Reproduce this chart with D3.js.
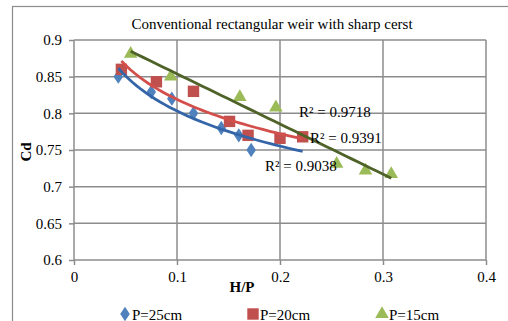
<!DOCTYPE html>
<html>
<head>
<meta charset="utf-8">
<title>Cd vs H/P</title>
<script src="https://cdn.jsdelivr.net/npm/d3@7"></script>
<style>
body { margin: 0; background: #fff; }
svg { font-family: "Liberation Serif", "Times New Roman", serif; }
.grid line { stroke: #8c8c8c; stroke-width: 1.5; }
.axis path, .axis line { stroke: #8c8c8c; stroke-width: 1.5; }
</style>
</head>
<body>
<script>
// values
var xTicks = [0, 0.1, 0.2, 0.3, 0.4];
var yTicks = [0.6, 0.65, 0.7, 0.75, 0.8, 0.85, 0.9];

var hp25 = [0.043, 0.075, 0.095, 0.116, 0.143, 0.160, 0.172];
var cd25 = [0.850, 0.829, 0.820, 0.800, 0.780, 0.770, 0.750];
var hp20 = [0.046, 0.080, 0.116, 0.151, 0.169, 0.200, 0.222];
var cd20 = [0.860, 0.843, 0.830, 0.789, 0.770, 0.766, 0.768];
var hp15 = [0.055, 0.094, 0.161, 0.196, 0.255, 0.283, 0.308];
var cd15 = [0.881, 0.850, 0.822, 0.808, 0.731, 0.722, 0.717];

var seriesNames = ["P=25cm", "P=20cm", "P=15cm"];
var trendTypes = ["log", "log", "linear"];
var trendRange = [[0.043, 0.222], [0.046, 0.222], [0.055, 0.308]];
var r2Values = ["0.9038", "0.9391", "0.9718"];

var W = 508, H = 321;
var margin = {top: 40, left: 74, right: 22, bottom: 61};
var w = W - margin.left - margin.right,
    h = H - margin.top - margin.bottom;
var serif = '"Liberation Serif", "Times New Roman", serif';

var x = d3.scaleLinear().domain([0, 0.4]).range([0, w]);
var y = d3.scaleLinear().domain([0.6, 0.9]).range([h, 0]);

var svg = d3.select("body").append("svg")
  .attr("width", W).attr("height", H);

// chart border
svg.append("rect").attr("x", 12.5).attr("y", 6.5)
  .attr("width", W).attr("height", H)
  .attr("fill", "none").attr("stroke", "#8c8c8c").attr("stroke-width", 1.2);

svg.append("text").attr("x", 272).attr("y", 29)
  .attr("text-anchor", "middle").style("font-size", "15px")
  .text("Conventional rectangular weir with sharp cerst");

var g = svg.append("g").attr("transform", "translate(" + margin.left + "," + margin.top + ")");

var grid = g.append("g").attr("class", "grid");
grid.selectAll(".gy").data(yTicks).enter().append("line")
  .attr("x1", 0).attr("x2", w)
  .attr("y1", function(d) { return y(d); }).attr("y2", function(d) { return y(d); });
grid.selectAll(".gx").data(xTicks).enter().append("line")
  .attr("y1", 0).attr("y2", h)
  .attr("x1", function(d) { return x(d); }).attr("x2", function(d) { return x(d); });

var xAxis = d3.axisBottom(x).tickValues(xTicks).tickSize(5).tickPadding(6)
  .tickFormat(function(d) { return d === 0 ? "0" : d3.format(".1f")(d); });
var yAxis = d3.axisLeft(y).tickValues(yTicks).tickSize(5).tickPadding(7)
  .tickFormat(function(d) { return String(+d.toFixed(2)); });

g.append("g").attr("class", "axis").attr("transform", "translate(0," + h + ")").call(xAxis);
g.append("g").attr("class", "axis").call(yAxis);
g.selectAll(".axis .domain").remove();
g.selectAll(".axis text")
  .style("font-family", serif).style("font-size", "15px").attr("fill", "#000");

g.append("text").attr("x", 168).attr("y", 252)
  .attr("text-anchor", "middle").style("font-size", "15px").style("font-weight", "bold")
  .text("H/P");
svg.append("text").attr("transform", "translate(31,152) rotate(-90)")
  .attr("text-anchor", "middle").style("font-size", "15px").style("font-weight", "bold")
  .text("Cd");

var series = [
  {name: seriesNames[0], xs: hp25, ys: cd25, fill: "#4f81bd", line: "#3465a8", shape: d3.symbolDiamond, size: 60},
  {name: seriesNames[1], xs: hp20, ys: cd20, fill: "#c0504d", line: "#d24f4b", shape: d3.symbolSquare, size: 130},
  {name: seriesNames[2], xs: hp15, ys: cd15, fill: "#9bbb59", line: "#4f6228", shape: d3.symbolTriangle, size: 80}
];

function fit(xs, ys, type) {
  var tx = xs.map(function(v) { return type === "log" ? Math.log(v) : v; });
  var mx = d3.mean(tx), my = d3.mean(ys), sxy = 0, sxx = 0;
  tx.forEach(function(v, i) { sxy += (v - mx) * (ys[i] - my); sxx += (v - mx) * (v - mx); });
  var b = sxy / sxx, a = my - b * mx;
  return function(v) { return a + b * (type === "log" ? Math.log(v) : v); };
}

// markers
series.forEach(function(s) {
  g.selectAll(null).data(s.xs).enter().append("path")
    .attr("d", d3.symbol().type(s.shape).size(s.size))
    .attr("transform", function(d, i) {
      var rot = s.shape === d3.symbolDiamond ? " scale(1.15,1)" : "";
      return "translate(" + x(d) + "," + y(s.ys[i]) + ")" + rot;
    })
    .attr("fill", s.fill);
});

// trendlines
series.forEach(function(s, k) {
  var f = fit(s.xs, s.ys, trendTypes[k]);
  var r = trendRange[k];
  var pts = d3.range(0, 41).map(function(i) { return r[0] + (r[1] - r[0]) * i / 40; });
  g.append("path").datum(pts)
    .attr("d", d3.line().x(function(d) { return x(d); }).y(function(d) { return y(f(d)); }))
    .attr("fill", "none").attr("stroke", s.line).attr("stroke-width", 2.8);
});

// R² labels
var r2Pos = [[265, 171], [310, 143], [299, 117]];
r2Values.forEach(function(v, k) {
  svg.append("text").attr("x", r2Pos[k][0]).attr("y", r2Pos[k][1])
    .style("font-size", "15px").text("R² = " + v);
});

// legend
var legX = [125, 253, 382];
series.forEach(function(s, k) {
  var lg = svg.append("g").attr("transform", "translate(" + legX[k] + ",314)");
  lg.append("path").attr("d", d3.symbol().type(s.shape).size(s.size))
    .attr("transform", s.shape === d3.symbolDiamond ? "scale(1.15,1)" : null)
    .attr("fill", s.fill);
  lg.append("text").attr("x", 7).attr("y", 5.5).style("font-size", "15px").text(s.name);
});
</script>
</body>
</html>
